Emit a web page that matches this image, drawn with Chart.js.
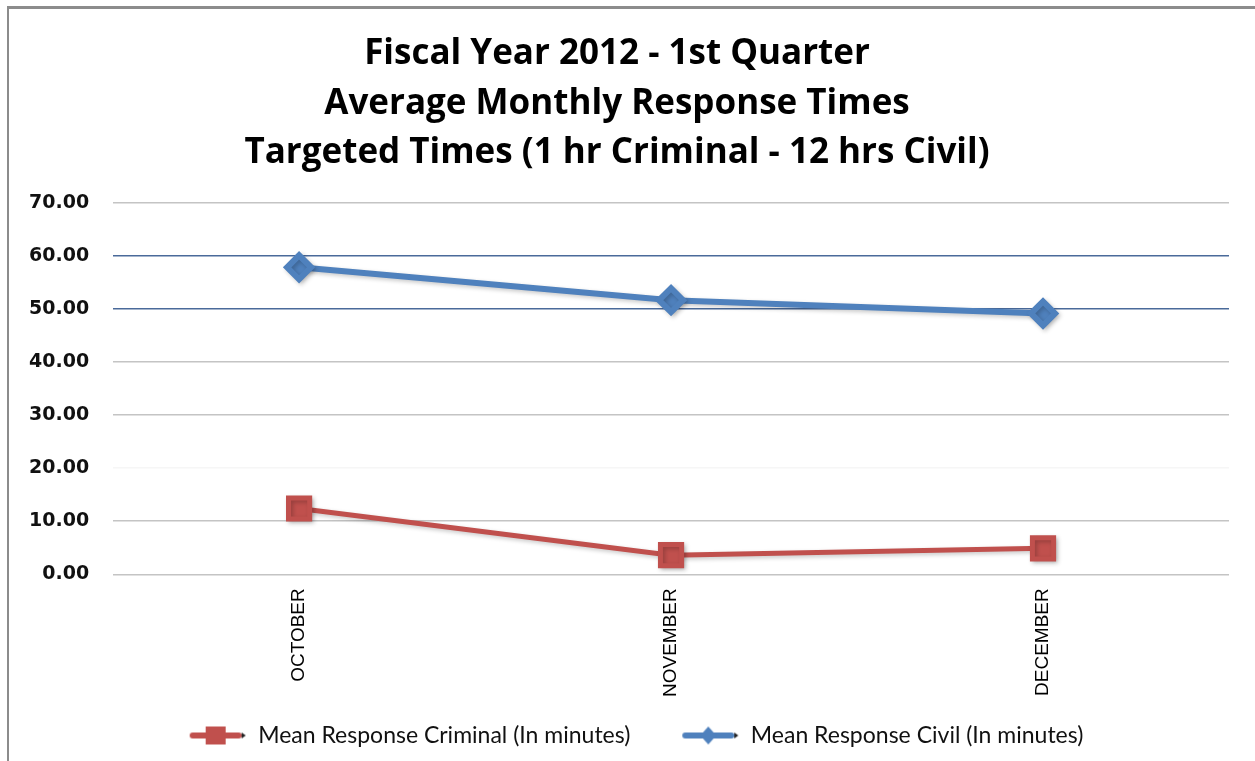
<!DOCTYPE html>
<html>
<head>
<meta charset="utf-8">
<script src="https://cdn.jsdelivr.net/npm/chart.js@4/dist/chart.umd.min.js"></script>
<style>
  html, body { margin: 0; padding: 0; background: #fff; }
  #wrap { position: relative; width: 1255px; height: 761px; overflow: hidden; }
  #frame { position: absolute; left: 7px; top: 6px; right: -10px; bottom: -10px;
           border-top: 3px solid #8c8c8c; border-left: 2px solid #8c8c8c; }
  canvas { position: absolute; left: 0; top: 0; }
</style>
</head>
<body>
<div id="wrap">
  <div id="frame"></div>
  <canvas id="chart" width="1255" height="761"></canvas>
</div>
<script>
// chart data
const months = ['OCTOBER', 'NOVEMBER', 'DECEMBER'];
const criminal = [12.4, 3.6, 4.9];
const civil = [57.9, 51.7, 49.2];
const titleLines = [
    'Fiscal Year 2012 - 1st Quarter',
    'Average Monthly Response Times',
    'Targeted Times (1 hr Criminal - 12 hrs Civil)'
];

const RED = '#c0504d';
const BLUE = '#4f81bd';

// little legend picture: line + marker + tiny arrow, like the Excel key
// (transparent margin on the left keeps the two keys apart)
function legendIcon(color, shape) {
    const c = document.createElement('canvas');
    c.width = 96;
    c.height = 24;
    const g = c.getContext('2d');
    const ox = 38;
    g.strokeStyle = color;
    g.lineWidth = 6;
    g.lineCap = 'round';
    g.beginPath();
    g.moveTo(ox + 4, 12);
    g.lineTo(ox + 50, 12);
    g.stroke();
    g.fillStyle = color;
    if (shape === 'rect') {
        g.fillRect(ox + 17, 3, 20, 18);
    } else {
        g.beginPath();
        g.moveTo(ox + 27, 3);
        g.lineTo(ox + 35, 12);
        g.lineTo(ox + 27, 21);
        g.lineTo(ox + 19, 12);
        g.closePath();
        g.fill();
    }
    g.fillStyle = '#222';
    g.beginPath();
    g.moveTo(ox + 53, 9);
    g.lineTo(ox + 57, 12);
    g.lineTo(ox + 53, 15);
    g.closePath();
    g.fill();
    return c;
}

const icons = [legendIcon(RED, 'rect'), legendIcon(BLUE, 'rectRot')];

// soft drop shadow under the lines and markers
const shadowPlugin = {
    id: 'shadow',
    beforeDatasetsDraw(chart) {
        const ctx = chart.ctx;
        ctx.save();
        ctx.shadowColor = 'rgba(0,0,0,0.22)';
        ctx.shadowBlur = 4;
        ctx.shadowOffsetX = 2;
        ctx.shadowOffsetY = 2;
    },
    afterDatasetsDraw(chart) {
        chart.ctx.restore();
    }
};

new Chart(document.getElementById('chart'), {
    type: 'line',
    data: {
        labels: months,
        datasets: [{
            label: 'Mean Response Criminal (In minutes)',
            data: criminal,
            borderColor: RED,
            backgroundColor: RED,
            borderWidth: 5,
            pointStyle: 'rect',
            pointRadius: 15,
            pointHoverRadius: 15,
            tension: 0
        }, {
            label: 'Mean Response Civil (In minutes)',
            data: civil,
            borderColor: BLUE,
            backgroundColor: BLUE,
            borderWidth: 6,
            pointStyle: 'rectRot',
            pointRadius: 12,
            pointHoverRadius: 12,
            tension: 0
        }]
    },
    options: {
        responsive: false,
        animation: false,
        layout: {
            padding: { top: 17, left: 5, right: 26, bottom: 4 }
        },
        plugins: {
            title: {
                display: true,
                text: titleLines,
                color: '#000',
                font: { family: '"Open Sans"', size: 35, weight: 'bold', lineHeight: 1.42 },
                padding: { top: 12, bottom: 25 }
            },
            legend: {
                position: 'bottom',
                labels: {
                    usePointStyle: true,
                    pointStyleWidth: 96,
                    padding: 13,
                    color: '#111',
                    font: { family: 'Lato', size: 23 },
                    generateLabels: (chart) => chart.data.datasets.map((ds, i) => ({
                        text: ds.label,
                        pointStyle: icons[i],
                        datasetIndex: i,
                        fontColor: '#111',
                        lineWidth: 0,
                        strokeStyle: 'transparent',
                        fillStyle: 'transparent'
                    }))
                }
            },
            tooltip: { enabled: false }
        },
        scales: {
            x: {
                offset: true,
                grid: { display: false, drawTicks: false },
                border: { display: false },
                ticks: {
                    minRotation: 90,
                    maxRotation: 90,
                    padding: 14,
                    color: '#000',
                    font: { family: '"Liberation Sans"', size: 19 }
                }
            },
            y: {
                min: 0,
                max: 70,
                border: { display: false },
                grid: {
                    drawTicks: false,
                    lineWidth: 1.5,
                    color: (ctx) => {
                        const v = ctx.tick && ctx.tick.value;
                        if (v === 50 || v === 60) return '#4a6a9a';
                        if (v === 20) return '#f6f6f6';
                        return '#c4c4c4';
                    }
                },
                ticks: {
                    stepSize: 10,
                    padding: 24,
                    color: '#111',
                    font: { family: '"DejaVu Sans"', size: 19, weight: 'bold' },
                    callback: (v) => Number(v).toFixed(2)
                }
            }
        }
    },
    plugins: [shadowPlugin]
});
</script>
</body>
</html>
